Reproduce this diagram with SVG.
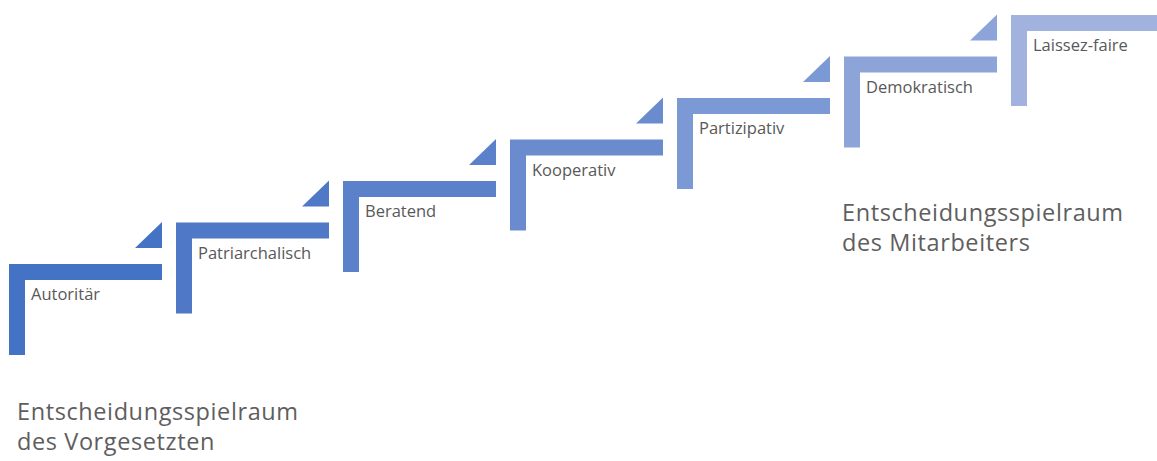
<svg xmlns="http://www.w3.org/2000/svg" xmlns:xlink="http://www.w3.org/1999/xlink" width="1157" height="461" viewBox="0 0 1157 461">
  <defs>
    <!-- one stair step: vertical riser + horizontal tread, drawn from its top-left corner -->
    <path id="stair" d="M0,0 H153 V16 H16 V91 H0 Z"/>
    <!-- small wedge above the right end of a tread -->
    <path id="wedge" d="M126,-16 H153 V-42 Z"/>
  </defs>
  <style>
    .label { font-family: "Open Sans", "Noto Sans", "Liberation Sans", sans-serif; font-size: 16.5px; fill: #595959; }
    .axis { font-family: "Open Sans", "Noto Sans", "Liberation Sans", sans-serif; font-size: 23.5px; letter-spacing: 0.6px; fill: #5e5e5e; }
    .s1 { fill: #4472C4; }
    .s2 { fill: #4F79C6; }
    .s3 { fill: #5A81CA; }
    .s4 { fill: #6A8CCF; }
    .s5 { fill: #7B99D4; }
    .s6 { fill: #8DA4D8; }
    .s7 { fill: #A1B2DF; }
  </style>

  <g id="step-autoritaer" class="s1" transform="translate(9,264)">
    <use xlink:href="#stair"/>
    <use xlink:href="#wedge"/>
    <text class="label" x="22" y="36">Autoritär</text>
  </g>
  <g id="step-patriarchalisch" class="s2" transform="translate(176,222.5)">
    <use xlink:href="#stair"/>
    <use xlink:href="#wedge"/>
    <text class="label" x="22" y="36">Patriarchalisch</text>
  </g>
  <g id="step-beratend" class="s3" transform="translate(343,181)">
    <use xlink:href="#stair"/>
    <use xlink:href="#wedge"/>
    <text class="label" x="22" y="36">Beratend</text>
  </g>
  <g id="step-kooperativ" class="s4" transform="translate(510,139.5)">
    <use xlink:href="#stair"/>
    <use xlink:href="#wedge"/>
    <text class="label" x="22" y="36">Kooperativ</text>
  </g>
  <g id="step-partizipativ" class="s5" transform="translate(677,98)">
    <use xlink:href="#stair"/>
    <use xlink:href="#wedge"/>
    <text class="label" x="22" y="36">Partizipativ</text>
  </g>
  <g id="step-demokratisch" class="s6" transform="translate(844,56.5)">
    <use xlink:href="#stair"/>
    <use xlink:href="#wedge"/>
    <text class="label" x="22" y="36">Demokratisch</text>
  </g>
  <g id="step-laissez-faire" class="s7" transform="translate(1011,15)">
    <use xlink:href="#stair"/>
    <text class="label" x="22" y="36">Laissez-faire</text>
  </g>

  <!-- no connectors: the steps themselves form the staircase -->
  <g id="connectors"/>

  <g id="axis-superior">
    <text class="axis" x="17" y="420">Entscheidungsspielraum</text>
    <text class="axis" x="17" y="450">des Vorgesetzten</text>
  </g>
  <g id="axis-employee">
    <text class="axis" x="842" y="221">Entscheidungsspielraum</text>
    <text class="axis" x="842" y="251">des Mitarbeiters</text>
  </g>
</svg>
